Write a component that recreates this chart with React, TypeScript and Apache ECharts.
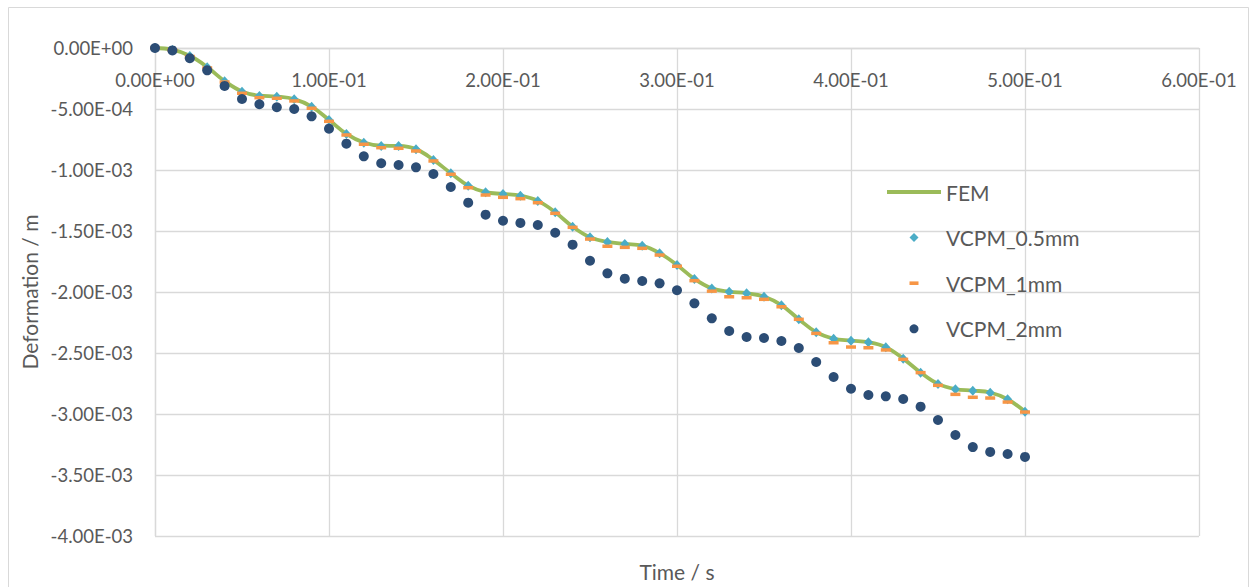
import React, { useEffect, useRef } from "react";
import * as echarts from "echarts";

const time = [
  0, 0.01, 0.02, 0.03, 0.04, 0.05, 0.06, 0.07, 0.08, 0.09,
  0.1, 0.11, 0.12, 0.13, 0.14, 0.15, 0.16, 0.17, 0.18, 0.19,
  0.2, 0.21, 0.22, 0.23, 0.24, 0.25, 0.26, 0.27, 0.28, 0.29,
  0.3, 0.31, 0.32, 0.33, 0.34, 0.35, 0.36, 0.37, 0.38, 0.39,
  0.4, 0.41, 0.42, 0.43, 0.44, 0.45, 0.46, 0.47, 0.48, 0.49, 0.5,
];

const fem = [
  0, -0.000014, -0.000064, -0.000156, -0.000271, -0.000356, -0.000391, -0.000398, -0.000419, -0.00048,
  -0.000589, -0.000704, -0.000775, -0.000801, -0.000803, -0.000829, -0.000917, -0.001026, -0.001128, -0.001182,
  -0.001196, -0.00121, -0.001253, -0.001346, -0.001464, -0.001551, -0.001589, -0.001606, -0.00162, -0.001682,
  -0.001778, -0.001892, -0.00197, -0.001997, -0.00201, -0.002037, -0.002108, -0.002223, -0.002329, -0.002382,
  -0.002398, -0.002411, -0.002452, -0.002546, -0.00266, -0.002753, -0.002796, -0.002808, -0.002824, -0.002879, -0.00298,
];

const vcpm05 = [
  0, -0.000016, -0.000066, -0.000158, -0.000273, -0.000358, -0.000393, -0.000399, -0.00042, -0.000481,
  -0.00059, -0.000705, -0.000776, -0.000803, -0.000803, -0.00083, -0.000918, -0.001027, -0.001129, -0.001183,
  -0.001197, -0.001211, -0.001254, -0.001347, -0.001465, -0.001552, -0.00159, -0.001607, -0.001621, -0.001683,
  -0.001779, -0.001893, -0.001971, -0.001998, -0.002011, -0.002038, -0.002109, -0.002224, -0.00233, -0.002383,
  -0.002399, -0.002412, -0.002453, -0.002547, -0.002661, -0.002754, -0.002797, -0.002809, -0.002825, -0.00288, -0.002981,
];

const vcpm1 = [
  0, -0.000016, -0.00007, -0.000164, -0.000279, -0.000371, -0.000407, -0.000412, -0.000434, -0.000494,
  -0.000601, -0.000713, -0.000789, -0.000817, -0.000822, -0.000844, -0.000926, -0.001035, -0.001145, -0.001205,
  -0.001224, -0.001235, -0.001268, -0.001355, -0.00147, -0.001566, -0.001625, -0.001634, -0.001642, -0.001697,
  -0.001789, -0.001907, -0.001993, -0.002039, -0.002047, -0.00206, -0.002121, -0.002224, -0.002339, -0.002416,
  -0.002451, -0.002457, -0.002475, -0.002552, -0.002661, -0.002765, -0.002839, -0.002863, -0.002869, -0.002902, -0.002984,
];

const vcpm2 = [
  0, -0.00002, -0.000084, -0.000183, -0.000311, -0.000418, -0.000461, -0.000486, -0.0005, -0.00056,
  -0.000661, -0.000784, -0.000888, -0.000945, -0.000959, -0.000978, -0.001033, -0.001139, -0.001268, -0.001366,
  -0.001416, -0.001434, -0.001451, -0.001514, -0.001612, -0.001744, -0.001847, -0.001891, -0.00191, -0.001929,
  -0.001986, -0.002093, -0.002216, -0.00232, -0.002369, -0.002377, -0.002402, -0.002459, -0.002574, -0.002697,
  -0.002793, -0.002844, -0.002855, -0.002877, -0.00294, -0.003049, -0.003172, -0.003271, -0.003311, -0.003328, -0.003352,
];

const seriesNames = ["FEM", "VCPM_0.5mm", "VCPM_1mm", "VCPM_2mm"];
const xTitle = "Time / s";
const yTitle = "Deformation / m";

const FONT = "Lato, 'Liberation Sans', sans-serif";
const TEXT = "#595959";
const GRID = "#D9D9D9";

function sci(v: number): string {
  if (Math.abs(v) < 1e-12) return "0.00E+00";
  const s = v.toExponential(2);
  const [m, e] = s.split("e");
  const n = parseInt(e, 10);
  const sign = n < 0 ? "-" : "+";
  const ab = Math.abs(n);
  return `${m}E${sign}${ab < 10 ? "0" + ab : ab}`;
}

const pairs = (arr: number[]) => time.map((t, i) => [t, arr[i]]);

export default function App() {
  const ref = useRef<HTMLDivElement>(null);
  useEffect(() => {
    if (!ref.current) return;
    const chart = echarts.init(ref.current, undefined, { renderer: "svg" });
    chart.setOption({
      animation: false,
      backgroundColor: "#ffffff",
      grid: { left: 155, right: 55, top: 48, bottom: 51, outerBoundsMode: "none" },
      xAxis: {
        type: "value",
        position: "top",
        min: 0,
        max: 0.6,
        interval: 0.1,
        axisLine: { show: true, onZero: false, lineStyle: { color: GRID, width: 1.3 } },
        axisTick: { show: false },
        axisLabel: {
          inside: true,
          margin: 22,
          formatter: (v: number) => sci(v),
          color: TEXT,
          fontSize: 18.5,
          fontFamily: FONT,
        },
        splitLine: { show: true, lineStyle: { color: GRID, width: 1.3 } },
      },
      yAxis: {
        type: "value",
        min: -0.004,
        max: 0,
        interval: 0.0005,
        name: yTitle,
        nameLocation: "middle",
        nameGap: 112,
        nameTextStyle: { color: TEXT, fontSize: 21, fontFamily: FONT },
        axisLine: { show: true, onZero: false, lineStyle: { color: GRID, width: 1.3 } },
        axisTick: { show: false },
        axisLabel: {
          margin: 22,
          formatter: (v: number) => sci(v),
          color: TEXT,
          fontSize: 18.5,
          fontFamily: FONT,
        },
        splitLine: { show: true, lineStyle: { color: GRID, width: 1.3 } },
      },
      legend: {
        orient: "vertical",
        left: 882,
        top: 175,
        itemWidth: 54,
        itemHeight: 9,
        itemGap: 21.6,
        selectedMode: false,
        textStyle: { color: TEXT, fontSize: 21, fontFamily: FONT, lineHeight: 24 },
        data: [
          { name: seriesNames[0], icon: "path://M0,0h54v4h-54z", itemStyle: { color: "#9BBB59" } },
          { name: seriesNames[1], icon: "path://M4.5,0L9,4.5L4.5,9L0,4.5Z", itemStyle: { color: "#4BACC6" } },
          { name: seriesNames[2], icon: "path://M0,2.7h9v3.6h-9zM0,0M9,9", itemStyle: { color: "#F79646" } },
          { name: seriesNames[3], icon: "circle", itemStyle: { color: "#2C4D75" } },
        ],
      },
      graphic: [
        {
          type: "rect",
          shape: { x: 8.5, y: 7.5, width: 1240, height: 620 },
          style: { fill: "none", stroke: GRID, lineWidth: 1 },
          silent: true,
        },
        {
          type: "text",
          x: 677,
          y: 571,
          style: {
            text: xTitle,
            fill: TEXT,
            fontSize: 21,
            fontFamily: FONT,
            align: "center",
            verticalAlign: "middle",
          },
        },
      ],
      series: [
        {
          name: seriesNames[0],
          type: "line",
          data: pairs(fem),
          smooth: 0.4,
          showSymbol: false,
          symbol: "none",
          lineStyle: { color: "#9BBB59", width: 3.8 },
          itemStyle: { color: "#9BBB59" },
          z: 2,
        },
        {
          name: seriesNames[1],
          type: "scatter",
          data: pairs(vcpm05),
          symbol: "diamond",
          symbolSize: [9, 10],
          itemStyle: { color: "#4BACC6", opacity: 1 },
          z: 3,
        },
        {
          name: seriesNames[2],
          type: "scatter",
          data: pairs(vcpm1),
          symbol: "rect",
          symbolSize: [10, 3.5],
          itemStyle: { color: "#F79646", opacity: 1 },
          z: 4,
        },
        {
          name: seriesNames[3],
          type: "scatter",
          data: pairs(vcpm2),
          symbol: "circle",
          symbolSize: 10,
          itemStyle: { color: "#2C4D75", opacity: 1 },
          z: 5,
        },
      ],
    });
    return () => chart.dispose();
  }, []);
  return (
    <div
      ref={ref}
      style={{ position: "absolute", left: 0, top: 0, width: 1254, height: 587, background: "#fff" }}
    />
  );
}
